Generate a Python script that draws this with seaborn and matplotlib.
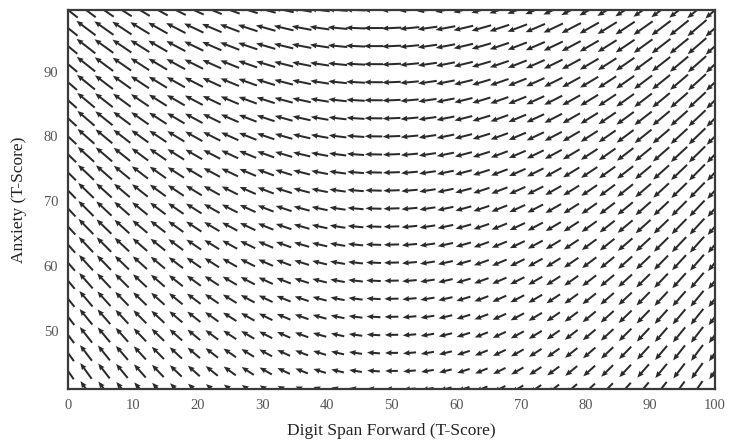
import numpy as np
import matplotlib
matplotlib.use("Agg")
import matplotlib.pyplot as plt
import seaborn as sns

# Plot ranges (T-scores)
x_range = [0, 100]
y_range = [41, 99.5]
n_cols = 37
n_rows = 22

# Linear direction field of the anxiety / digit-span model
# dx/dt = -(drift_base + drift_slope * (y - y_ref))
# dy/dt = pull * (x_eq(y) - x),  x_eq(y) = eq_center - eq_tilt * (y - 70)
drift_base = 33.0
drift_slope = 0.466
y_ref = 41.0
pull = 1.0
eq_center = 48.5
eq_tilt = 0.05

# Arrow length (data units) grows with field magnitude
len_base = 0.45
len_gain = 0.044

x_label = "Digit Span Forward (T-Score)"
y_label = "Anxiety (T-Score)"
x_ticks = [0, 10, 20, 30, 40, 50, 60, 70, 80, 90, 100]
y_ticks = [50, 60, 70, 80, 90]

sns.set_style("white")
plt.rcParams["font.family"] = ["Liberation Serif", "DejaVu Serif"]

xs = np.linspace(x_range[0], x_range[1], n_cols)
ys = np.linspace(y_range[0], y_range[1], n_rows)
X, Y = np.meshgrid(xs, ys)
U = -(drift_base + drift_slope * (Y - y_ref))
V = pull * ((eq_center - eq_tilt * (Y - 70)) - X)
mag = np.hypot(U, V)
L = len_base + len_gain * mag
U_s = U / mag * L
V_s = V / mag * L

fig = plt.figure(figsize=(7.29, 4.47), dpi=100)
ax = fig.add_axes([68 / 729, 1 - 389 / 447, (715 - 68) / 729, (389 - 10) / 447])
ax.quiver(X, Y, U_s, V_s, angles="xy", scale_units="xy", scale=1,
          pivot="mid", color="#2a2a2a", width=0.0031,
          headwidth=2.8, headlength=3.4, headaxislength=3.1)

ax.set_xlim(*x_range)
ax.set_ylim(*y_range)
ax.set_xticks(x_ticks)
ax.set_yticks(y_ticks)
ax.tick_params(axis="both", direction="in", length=3, width=0.8,
               labelsize=10.5, labelcolor="#555555", color="#444444", pad=7)
for s in ax.spines.values():
    s.set_color("#3a3a3a")
    s.set_linewidth(1.6)
ax.set_xlabel(x_label, fontsize=12.5, color="#222222", labelpad=8)
ax.set_ylabel(y_label, fontsize=12.5, color="#222222", labelpad=12)

fig.savefig("out.png", dpi=100)
